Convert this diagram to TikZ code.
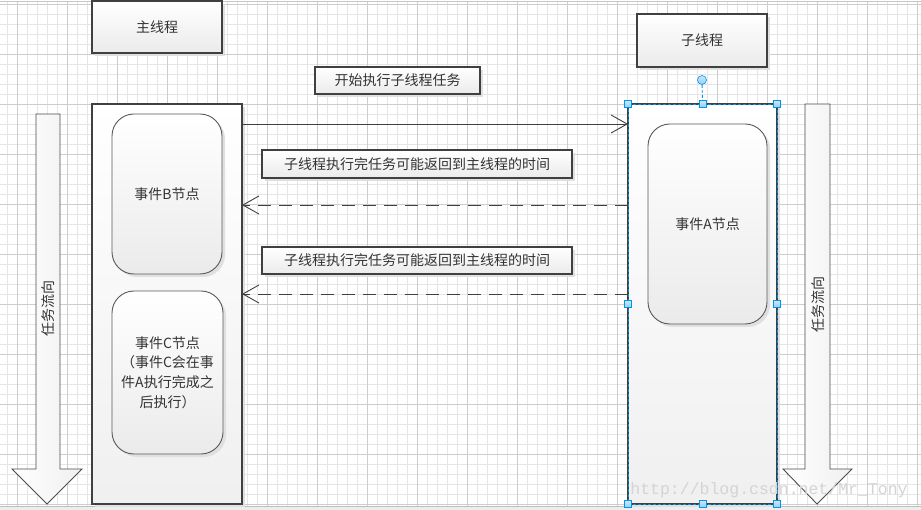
\documentclass[tikz,border=0pt]{standalone}
\usepackage{fontspec}
\setmainfont{Noto Sans CJK SC}
\newfontfamily\markfont{Liberation Mono}
\usetikzlibrary{arrows.meta,shadows}

\definecolor{selblue}{RGB}{0,150,230}
\definecolor{handleblue}{RGB}{150,205,245}
\definecolor{gridminor}{RGB}{229,229,229}
\definecolor{gridmajor}{RGB}{205,205,205}

\tikzset{
    box/.style={draw=black!75, line width=1.1pt, top color=white, bottom color=black!8,
        inner sep=0pt, outer sep=0pt, font=\fontsize{14}{19.7}\selectfont, text=black!80,
        drop shadow={shadow xshift=3pt, shadow yshift=-3pt, fill=black!12, opacity=1}},
    lane/.style={box, bottom color=black!6},
    eventbox/.style={box, draw=black!65, line width=0.9pt, rounded corners=22pt, align=center},
    flow/.style={draw=black!70, line width=0.9pt, left color=white, right color=black!6},
    flowtext/.style={rotate=90, font=\fontsize{14}{16}\selectfont, text=black!80},
    call/.style={draw=black!75, line width=0.9pt, -{Straight Barb[length=16pt,width=18pt]}},
    reply/.style={call, dash pattern=on 13pt off 8pt},
    handle/.style={draw=selblue, line width=0.6pt, top color=handleblue!50, bottom color=handleblue,
        minimum size=7pt, inner sep=0pt},
    seldash/.style={draw=selblue, line width=0.9pt, dash pattern=on 3pt off 2pt}
}

\begin{document}
\begin{tikzpicture}[x=1pt, y=-1pt]
    \useasboundingbox (0,0) rectangle (921,510);
    \fill[white] (0,0) rectangle (921,510);

    % Draw the grid
    \foreach \x in {7,17,...,917} \draw[gridminor, line width=0.8pt] (\x,2) -- (\x,506);
    \foreach \y in {4,14,...,504} \draw[gridminor, line width=0.8pt] (0,\y) -- (921,\y);
    \foreach \x in {17,67,...,917} \draw[gridmajor, line width=0.8pt] (\x,2) -- (\x,506);
    \foreach \y in {4,54,...,504} \draw[gridmajor, line width=0.8pt] (0,\y) -- (921,\y);
    \draw[black!22, line width=1pt] (0,1.5) -- (921,1.5);
    \fill[black!7] (0,506) rectangle (921,510);
    \draw[black!25, line width=1pt] (0,506.5) -- (921,506.5);

    % Draw the headers
    \node[box, minimum width=130, minimum height=52] (mainhead) at (157,27) {主线程};
    \node[box, minimum width=130, minimum height=53] (subhead) at (702,40.5) {子线程};
    \node[box, minimum width=165, minimum height=27] (startlabel) at (397.5,80.5) {开始执行子线程任务};

    % Draw the task flow arrows
    \draw[flow] (36,114) -- (60,114) -- (60,469) -- (82,469) -- (47,504) -- (12,469) -- (36,469) -- cycle;
    \draw[flow] (805,104) -- (830,104) -- (830,469) -- (852,469) -- (817,504) -- (783,469) -- (805,469) -- cycle;
    \node[flowtext] (leftflow) at (48,309) {任务流向};
    \node[flowtext] (rightflow) at (818,305) {任务流向};

    % Draw the lanes
    \node[lane, minimum width=150, minimum height=400] (mainlane) at (167,304) {};
    \node[lane, minimum width=149, minimum height=400] (sublane) at (702.5,304) {};

    % Draw the events
    \node[eventbox, minimum width=110, minimum height=160] (eventB) at (167,194) {事件B节点};
    \node[eventbox, minimum width=111, minimum height=163] (eventC) at (167.5,372.5)
        {事件C节点\\（事件C会在事\\件A执行完成之\\后执行）};
    \node[eventbox, minimum width=119, minimum height=200] (eventA) at (707.5,224) {事件A节点};

    % Draw the return labels
    \node[box, minimum width=310, minimum height=28] (retlabel1) at (417,164) {子线程执行完任务可能返回到主线程的时间};
    \node[box, minimum width=310, minimum height=27] (retlabel2) at (417,260.5) {子线程执行完任务可能返回到主线程的时间};

    % Draw connections
    \coordinate (ret1) at (0,205);
    \coordinate (ret2) at (0,294);
    \draw[call] (mainlane.east |- eventA.north) -- (sublane.west |- eventA.north);
    \draw[reply] (sublane.west |- ret1) -- (mainlane.east |- ret1);
    \draw[reply] (sublane.west |- ret2) -- (mainlane.east |- ret2);

    % Selection on the sub lane
    \draw[seldash] (sublane.north west) rectangle (sublane.south east);
    \node[circle, draw=selblue, line width=0.6pt, top color=handleblue!50, bottom color=handleblue,
        minimum size=9pt, inner sep=0pt] (rothandle) at (702,80) {};
    \draw[seldash] (rothandle) -- (sublane.north);
    \foreach \a in {north west,north,north east,west,east,south west,south,south east}
        \node[handle] at (sublane.\a) {};

    % Watermark
    \node[font=\markfont\fontsize{16.5}{18}\selectfont, text=black!17] (watermark) at (769,490) {http://blog.csdn.net/Mr\_Tony};

\end{tikzpicture}
\end{document}
